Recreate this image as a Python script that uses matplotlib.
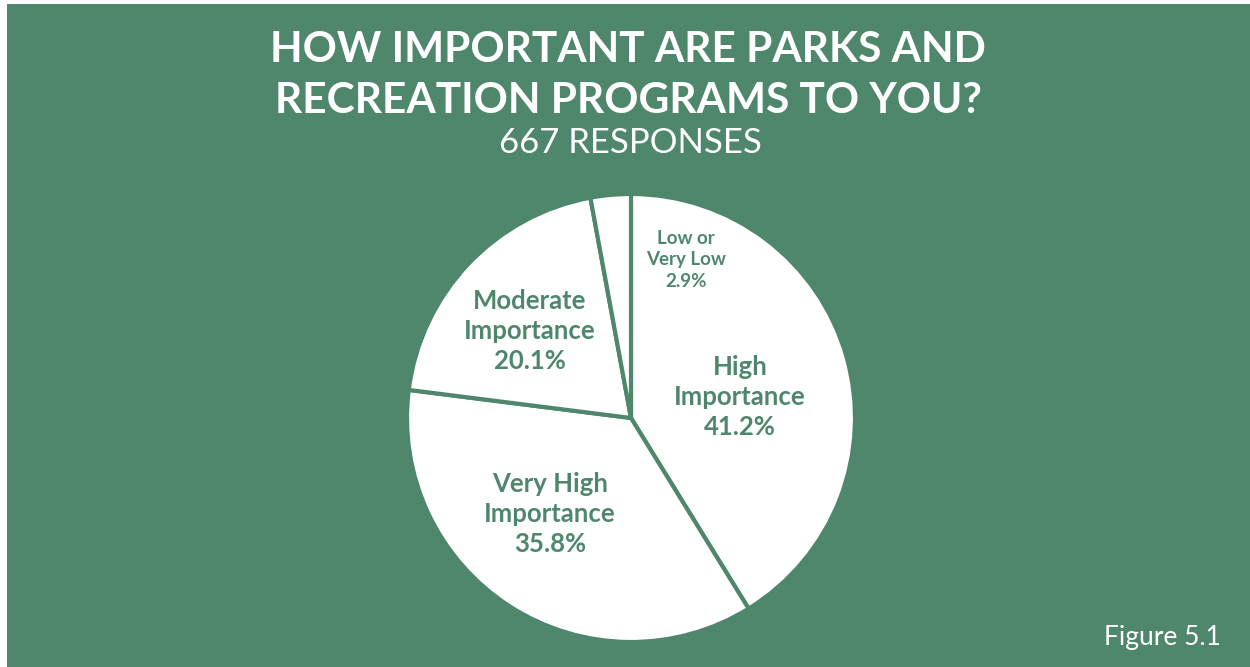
import matplotlib
matplotlib.use("Agg")
import matplotlib.pyplot as plt
from matplotlib.patches import Rectangle

categories = ["High\nImportance", "Very High\nImportance", "Moderate\nImportance", "Low or\nVery Low"]
values = [41.2, 35.8, 20.1, 2.9]

GREEN = "#4E876C"
W, H = 1250, 667
fig = plt.figure(figsize=(W / 100, H / 100), dpi=100)
fig.patch.set_facecolor("white")
fig.patches.append(Rectangle((7 / W, 0), 1 - 7 / W, 1 - 4 / H, transform=fig.transFigure,
                             facecolor=GREEN, edgecolor="none", zorder=-10))

fam = ["Lato", "DejaVu Sans"]
fig.text(628 / W, 1 - 50 / H, "HOW IMPORTANT ARE PARKS AND", ha="center", va="center",
         color="white", fontsize=30.5, fontweight="bold", family=fam)
fig.text(628 / W, 1 - 101 / H, "RECREATION PROGRAMS TO YOU?", ha="center", va="center",
         color="white", fontsize=30.5, fontweight="bold", family=fam)
fig.text(630 / W, 1 - 143 / H, "667 RESPONSES", ha="center", va="center",
         color="white", fontsize=25, fontweight="normal", family=fam)
fig.text(1221 / W, 1 - 638 / H, "Figure 5.1", ha="right", va="center",
         color="white", fontsize=19, fontweight="normal", family=fam)

cx, cy, r = 631, 418, 224
ax = fig.add_axes([(cx - r) / W, (H - cy - r) / H, 2 * r / W, 2 * r / H])
ax.set_zorder(5)
ax.set_facecolor("none")
wedges, _ = ax.pie(values, startangle=90, counterclock=False,
                   colors=["white"] * 4,
                   wedgeprops=dict(edgecolor=GREEN, linewidth=3.0))
ax.set_xlim(-1, 1)
ax.set_ylim(-1, 1)
ax.set_aspect("equal")
ax.axis("off")

label_pos = [(740, 397), (550, 514), (530, 331), (686, 260)]
sizes = [18.5, 18.5, 18.5, 13.5]
for cat, v, (lx, ly), fs in zip(categories, values, label_pos, sizes):
    t = fig.text(lx / W, 1 - ly / H, f"{cat}\n{v}%", ha="center", va="center",
                 color=GREEN, fontsize=fs, fontweight="bold", family=fam, linespacing=1.3)
    t.set_zorder(10)

fig.savefig("out.png", dpi=100, facecolor=fig.get_facecolor())
